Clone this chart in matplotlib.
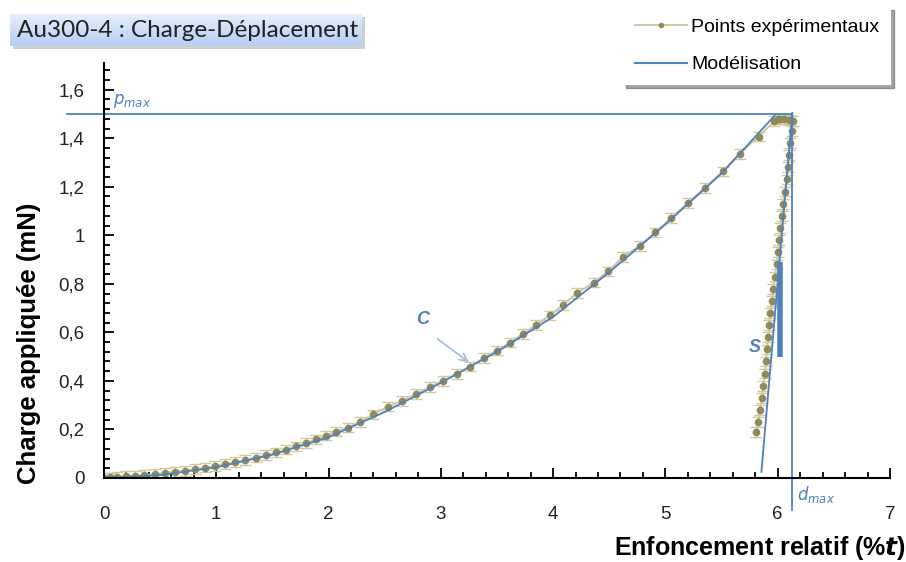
import numpy as np
import matplotlib
matplotlib.use('Agg')
import matplotlib.pyplot as plt
from matplotlib.lines import Line2D
from matplotlib.patches import Rectangle, FancyArrowPatch
from matplotlib.ticker import MultipleLocator, FuncFormatter

plt.rcParams['font.family'] = ['Liberation Sans', 'DejaVu Sans']

# charge (loading)
load_x = [0.00, 0.05, 0.12, 0.20, 0.28, 0.36, 0.45, 0.54, 0.63, 0.72, 0.81, 0.90,
          0.99, 1.08, 1.17, 1.26, 1.35, 1.44, 1.53, 1.62, 1.71, 1.80, 1.89, 1.98,
          2.07, 2.17, 2.28, 2.40, 2.53, 2.65, 2.78, 2.90, 3.02, 3.14, 3.26, 3.38,
          3.50, 3.62, 3.73, 3.85, 3.97, 4.09, 4.21, 4.36, 4.49, 4.62, 4.77, 4.91,
          5.05, 5.20, 5.35, 5.51, 5.66, 5.83, 5.97, 6.00]
load_y = [0.000, 0.002, 0.005, 0.008, 0.010, 0.012, 0.016, 0.020, 0.025, 0.030, 0.036, 0.043,
          0.050, 0.057, 0.065, 0.074, 0.084, 0.094, 0.105, 0.117, 0.130, 0.144, 0.159, 0.175,
          0.191, 0.208, 0.232, 0.262, 0.294, 0.318, 0.346, 0.374, 0.401, 0.429, 0.459, 0.494,
          0.525, 0.558, 0.594, 0.631, 0.670, 0.713, 0.762, 0.805, 0.851, 0.910, 0.957, 1.012,
          1.071, 1.133, 1.195, 1.263, 1.336, 1.407, 1.470, 1.478]

# maintien + decharge
unload_x = [6.02, 6.06, 6.10, 6.14, 6.13, 6.11, 6.10, 6.09, 6.08, 6.065, 6.05, 6.035,
            6.025, 6.015, 6.005, 5.99, 5.975, 5.96, 5.95, 5.935, 5.925, 5.915, 5.905,
            5.895, 5.885, 5.87, 5.86, 5.84, 5.825, 5.81]
unload_y = [1.480, 1.478, 1.474, 1.470, 1.43, 1.38, 1.33, 1.28, 1.23, 1.18, 1.13, 1.08,
            1.03, 0.98, 0.93, 0.88, 0.83, 0.78, 0.73, 0.68, 0.63, 0.58, 0.53,
            0.48, 0.43, 0.38, 0.33, 0.28, 0.23, 0.19]
err = 0.02

# modelisation
model_x = [0.0, 0.5, 1.0, 1.5, 2.0, 2.5, 3.0, 3.5, 4.0, 4.5, 5.0, 5.5, 5.98]
model_y = [0.0, 0.012, 0.044, 0.096, 0.168, 0.272, 0.392, 0.520, 0.664, 0.848, 1.045, 1.255, 1.497]
tang_x = [6.13, 5.855]
tang_y = [1.505, 0.025]
pmax = 1.5
dmax = 6.13

exp_line = '#cfc8a4'
exp_mark = '#8f8a57'
blue = '#4f81bd'

fig = plt.figure(figsize=(9.06, 5.62), dpi=100)
ax = fig.add_axes([0.1148, 0.1495, 0.8675, 0.7384])

x_all = load_x + unload_x
y_all = load_y + unload_y
ax.errorbar(x_all, y_all, yerr=err, fmt='none', ecolor=exp_line, elinewidth=1, capsize=4)
ax.plot(x_all, y_all, '-', color=exp_line, lw=1.5, marker='o', ms=4.5,
        mfc=exp_mark, mec=exp_mark)

ax.plot(model_x, model_y, color=blue, lw=1.3)
ax.plot(tang_x, tang_y, color=blue, lw=1.3)
ax.plot([-0.33, dmax], [pmax, pmax], color=blue, lw=1.3, clip_on=False)
ax.plot([dmax, dmax], [pmax, -0.13], color=blue, lw=1.3, clip_on=False)
ax.plot([6.02, 6.02], [0.5, 0.89], color=blue, lw=4, solid_capstyle='butt')

ax.text(0.08, 1.54, '$p_{max}$', color=blue, fontsize=12, family='DejaVu Sans')
ax.text(6.17, -0.09, '$d_{max}$', color=blue, fontsize=12, family='DejaVu Sans')
ax.text(2.78, 0.635, 'C', color=blue, fontsize=13, style='italic', weight='bold')
ax.text(5.74, 0.52, 'S', color=blue, fontsize=13, style='italic', weight='bold')
ax.add_patch(FancyArrowPatch((2.95, 0.58), (3.27, 0.47), arrowstyle='->',
                             mutation_scale=14, color='#9dbbe3', lw=1.2))

ax.set_xlim(0, 7)
ax.set_ylim(0, 1.71)
ax.xaxis.set_major_locator(MultipleLocator(1))
ax.xaxis.set_minor_locator(MultipleLocator(0.2))
ax.yaxis.set_major_locator(MultipleLocator(0.2))
ax.yaxis.set_minor_locator(MultipleLocator(0.04))
ax.yaxis.set_major_formatter(FuncFormatter(lambda v, p: ('%g' % round(v, 1)).replace('.', ',')))
for s in ['top', 'right']:
    ax.spines[s].set_visible(False)
for s in ['left', 'bottom']:
    ax.spines[s].set_linewidth(1.5)
ax.tick_params(which='both', direction='in', width=1.3, labelsize=13.5, labelcolor='#222222')
ax.tick_params(which='major', length=7)
ax.tick_params(which='minor', length=4)
ax.tick_params(axis='x', pad=20)
ax.tick_params(axis='y', pad=14)

ax.set_xlabel('Enfoncement relatif (%$\\mathbfit{t}$)', fontsize=18, weight='bold')
ax.xaxis.set_label_coords(1.02, -0.135)
ax.xaxis.label.set_ha('right')
ax.set_ylabel('Charge appliquée (mN)', fontsize=18.5, weight='bold')
ax.yaxis.set_label_coords(-0.08, 0.325)

# title box with gradient
shadow = Rectangle((13 / 906, 1 - 49 / 562), 352 / 906, 32 / 562, transform=fig.transFigure,
                   facecolor='#b0b0b0', edgecolor='none', alpha=0.6, zorder=0)
fig.add_artist(shadow)
tax = fig.add_axes([10 / 906, 1 - 46 / 562, 352 / 906, 32 / 562])
tax.set_zorder(5)
grad = np.linspace(0, 1, 50).reshape(-1, 1)
tax.imshow(grad, aspect='auto', cmap=matplotlib.colors.LinearSegmentedColormap.from_list(
    'g', ['#e6effc', '#b6cef4']), extent=[0, 1, 0, 1], origin='upper')
tax.set_axis_off()
tax.text(0.02, 0.48, 'Au300-4 : Charge-Déplacement', fontsize=17.5, family='Lato',
         color='#222222', va='center', ha='left')

# legend
handles = [Line2D([], [], color=exp_line, lw=1.5, marker='o', ms=3, mfc=exp_mark, mec=exp_mark),
           Line2D([], [], color=blue, lw=1.5)]
leg = fig.legend(handles, ['Points expérimentaux', 'Modélisation'], loc='upper left',
                 bbox_to_anchor=(623 / 906, 1 - 7 / 562), fontsize=14, frameon=True, shadow=True,
                 fancybox=False, handlelength=2.7, labelspacing=1.0, handletextpad=0.2,
                 borderpad=0.6, borderaxespad=0)
leg.get_frame().set_edgecolor('none')

fig.savefig('out.png', dpi=100)
